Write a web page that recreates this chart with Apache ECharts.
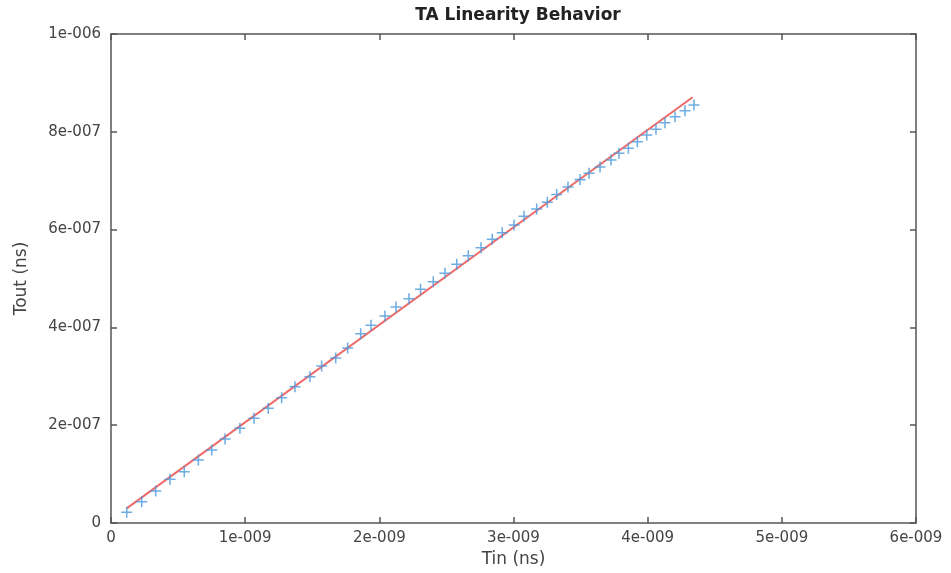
<!DOCTYPE html>
<html>
<head>
<meta charset="utf-8">
<style>
  html, body { margin: 0; padding: 0; background: #fff; }
  #main { width: 951px; height: 573px; }
</style>
<script src="https://cdn.jsdelivr.net/npm/echarts@6/dist/echarts.min.js"></script>
</head>
<body>
<div id="main"></div>
<script>
// measured points (seconds)
var tinValues = [
  0.117e-9, 0.229e-9, 0.333e-9, 0.440e-9, 0.546e-9, 0.651e-9, 0.751e-9, 0.850e-9,
  0.961e-9, 1.066e-9, 1.172e-9, 1.272e-9, 1.371e-9, 1.483e-9, 1.570e-9, 1.675e-9,
  1.764e-9, 1.861e-9, 1.938e-9, 2.042e-9, 2.124e-9, 2.221e-9, 2.307e-9, 2.402e-9,
  2.489e-9, 2.577e-9, 2.663e-9, 2.758e-9, 2.842e-9, 2.916e-9, 3.004e-9, 3.078e-9,
  3.173e-9, 3.252e-9, 3.322e-9, 3.406e-9, 3.496e-9, 3.563e-9, 3.645e-9, 3.727e-9,
  3.786e-9, 3.856e-9, 3.923e-9, 3.993e-9, 4.062e-9, 4.129e-9, 4.204e-9, 4.278e-9,
  4.345e-9
];
var toutValues = [
  0.219e-7, 0.436e-7, 0.654e-7, 0.894e-7, 1.049e-7, 1.288e-7, 1.493e-7, 1.718e-7,
  1.937e-7, 2.141e-7, 2.346e-7, 2.562e-7, 2.787e-7, 2.992e-7, 3.211e-7, 3.374e-7,
  3.579e-7, 3.871e-7, 4.043e-7, 4.233e-7, 4.417e-7, 4.587e-7, 4.779e-7, 4.935e-7,
  5.106e-7, 5.290e-7, 5.466e-7, 5.630e-7, 5.802e-7, 5.937e-7, 6.094e-7, 6.274e-7,
  6.421e-7, 6.558e-7, 6.716e-7, 6.871e-7, 7.022e-7, 7.151e-7, 7.282e-7, 7.423e-7,
  7.560e-7, 7.663e-7, 7.798e-7, 7.935e-7, 8.051e-7, 8.186e-7, 8.309e-7, 8.432e-7,
  8.548e-7
];
// linear fit end points
var fitTin = [0.117e-9, 4.335e-9];
var fitTout = [0.300e-7, 8.706e-7];

var xTickLabels = ['0', '1e-009', '2e-009', '3e-009', '4e-009', '5e-009', '6e-009'];
var yTickLabels = ['0', '2e-007', '4e-007', '6e-007', '8e-007', '1e-006'];

var xStep = 1e-9, yStep = 2e-7;
var font = 'DejaVu Sans';
var frame = '#555';

function axisBase(isX, showLabel, pos) {
  var step = isX ? xStep : yStep;
  var labels = isX ? xTickLabels : yTickLabels;
  return {
    type: 'value',
    position: pos,
    min: 0,
    max: step * (labels.length - 1),
    interval: step,
    splitLine: { show: false },
    axisLine: { show: true, onZero: false, lineStyle: { color: frame, width: 1.5 } },
    axisTick: { show: true, inside: true, length: 6, lineStyle: { color: frame, width: 1.5 } },
    axisLabel: {
      show: showLabel,
      color: '#444',
      fontFamily: font,
      fontSize: 15,
      margin: isX ? 8 : 10,
      formatter: function (v) {
        return labels[Math.round(v / step)];
      }
    }
  };
}

var xBottom = axisBase(true, true, 'bottom');
xBottom.name = 'Tin (ns)';
xBottom.nameLocation = 'middle';
xBottom.nameGap = 25;
xBottom.nameTextStyle = { color: '#444', fontFamily: font, fontSize: 17 };

var yLeft = axisBase(false, true, 'left');
yLeft.name = 'Tout (ns)';
yLeft.nameLocation = 'middle';
yLeft.nameGap = 81;
yLeft.nameTextStyle = { color: '#444', fontFamily: font, fontSize: 17 };

var chart = echarts.init(document.getElementById('main'));
chart.setOption({
  animation: false,
  backgroundColor: '#fff',
  title: {
    text: 'TA Linearity Behavior',
    left: 513,
    textAlign: 'center',
    top: 2,
    textStyle: { fontFamily: font, fontSize: 17, fontWeight: 'bold', color: '#222' }
  },
  grid: { left: 111, right: 35, top: 34, bottom: 50 },
  xAxis: [xBottom, axisBase(true, false, 'top')],
  yAxis: [yLeft, axisBase(false, false, 'right')],
  series: [
    {
      name: 'fit',
      type: 'line',
      xAxisIndex: 0,
      yAxisIndex: 0,
      showSymbol: false,
      data: fitTin.map(function (x, i) { return [x, fitTout[i]]; }),
      lineStyle: { color: '#f06a6a', width: 2 },
      z: 2
    },
    {
      name: 'measured',
      type: 'scatter',
      xAxisIndex: 0,
      yAxisIndex: 0,
      symbol: 'path://M0,4.3H10V5.7H0Z M4.3,0H5.7V10H4.3Z',
      symbolSize: 11,
      data: tinValues.map(function (x, i) { return [x, toutValues[i]]; }),
      itemStyle: { color: '#4a98dc' },
      z: 3
    }
  ]
});
</script>
</body>
</html>
